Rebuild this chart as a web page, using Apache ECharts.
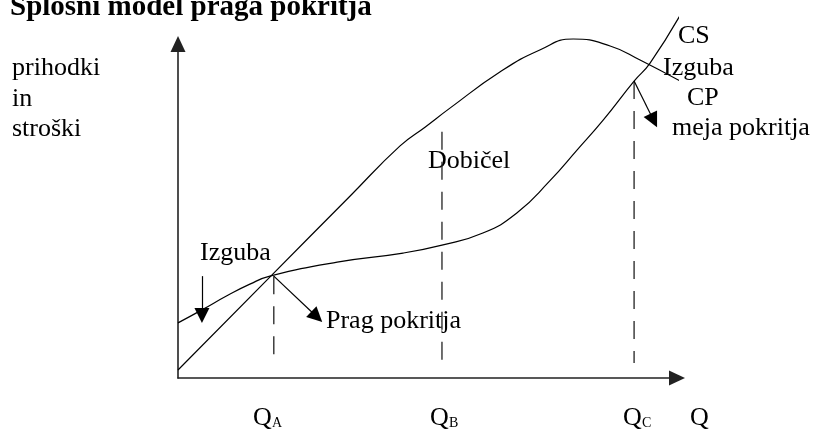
<!DOCTYPE html>
<html>
<head>
<meta charset="utf-8">
<script src="https://cdn.jsdelivr.net/npm/echarts@6/dist/echarts.min.js"></script>
<style>
    html, body { margin: 0; padding: 0; background: #fff; }
    #graphic { width: 813px; height: 432px; }
</style>
</head>
<body>
<div id="graphic"></div>
<script>
// quantity (Q) in relative units, 0..100 on the horizontal axis
var cpQ = [0, 18.4, 34.5, 44.5, 49.5, 54.5, 64.5, 72.5, 79.2, 86.6, 92.6, 101.0];
// CP - prihodki (revenue)
var cpValues = [2.4, 30.2, 54.5, 69.5, 75.1, 80.8, 91.6, 98.2, 101.5, 99.4, 95.2, 88.6];

var csQ = [0, 4.8, 9.8, 14.4, 18.4, 31.9, 45.1, 52.9, 61.1, 67.9, 74.5, 80.0, 85.2, 91.4, 94.6, 101.0];
// CS - stroški (costs)
var csValues = [16.5, 20.4, 24.6, 28.1, 30.5, 34.7, 37.4, 39.8, 43.4, 49.4, 59.0, 68.3, 77.2, 88.9, 94.3, 109.6];

// Q_A, Q_B, Q_C guide lines
var qNames = ["A", "B", "C"];
var qPos = [19.2, 52.9, 91.4];
var qTop = [30.5, 73.7, 88.9];
var qBottom = [5.4, 2.4, 4.5];

// annotation arrows: start -> tip
var arrows = [
    { from: [4.8, 30.5], to: [4.8, 16.5] },
    { from: [19.2, 30.5], to: [28.9, 16.8] },
    { from: [91.4, 88.9], to: [96.0, 75.1] }
];

(function () {
    var gridLeft = 178, gridTop = 44, gridRight = 136, gridBottom = 54;
    var pxX = (813 - gridLeft - gridRight) / 100;
    var pxY = (432 - gridTop - gridBottom) / 100;
    var headSize = 15;
    var font = "Liberation Serif";

    var zip = function (xs, ys) {
        var out = [];
        for (var i = 0; i < xs.length; i++) out.push([xs[i], ys[i]]);
        return out;
    };

    // markLine symbols are centered on the end point, so pull the end back by half a head
    var arrowLines = [];
    for (var i = 0; i < arrows.length; i++) {
        var a = arrows[i];
        var dx = (a.to[0] - a.from[0]) * pxX, dy = (a.to[1] - a.from[1]) * pxY;
        var len = Math.sqrt(dx * dx + dy * dy);
        var back = headSize / 2 / len;
        var end = [a.to[0] - (a.to[0] - a.from[0]) * back, a.to[1] - (a.to[1] - a.from[1]) * back];
        arrowLines.push([{ coord: a.from }, { coord: end }]);
    }

    var series = [
        {
            name: "CP", type: "line", data: zip(cpQ, cpValues), smooth: 0.5,
            symbol: "none", clip: false, lineStyle: { color: "#000", width: 1.2 }
        },
        {
            name: "CS", type: "line", data: zip(csQ, csValues), smooth: 0.5,
            symbol: "none", clip: false, lineStyle: { color: "#000", width: 1.2 }
        },
        {
            name: "arrows", type: "line", data: [], symbol: "none",
            markLine: {
                silent: true, animation: false,
                symbol: ["none", "triangle"], symbolSize: headSize,
                label: { show: false },
                lineStyle: { color: "#000", width: 1.2, type: "solid" },
                emphasis: { disabled: true },
                data: arrowLines
            }
        }
    ];
    for (var k = 0; k < qPos.length; k++) {
        series.push({
            name: "Q" + qNames[k], type: "line", symbol: "none", clip: false,
            data: [[qPos[k], qTop[k]], [qPos[k], qBottom[k]]],
            lineStyle: { color: "#222", width: 1.3, type: [18, 12] }
        });
    }

    var txt = function (text, x, y, size, extra) {
        return {
            type: "text", x: x, y: y, silent: true,
            style: { text: text, font: (extra || "") + size + "px '" + font + "'", fill: "#000", verticalAlign: "middle", align: "left" }
        };
    };

    var graphics = [
        txt("Splošni model praga pokritja", 10, 8, 29, "bold "),
        txt("prihodki", 12, 68, 26),
        txt("in", 12, 99, 26),
        txt("stroški", 12, 129, 26),
        txt("Izguba", 200, 253, 26),
        txt("Prag pokritja", 326, 321, 26),
        txt("Dobičel", 428, 161, 26),
        txt("CS", 678, 36, 26),
        txt("Izguba", 663, 68, 26),
        txt("CP", 687, 98, 26),
        txt("meja pokritja", 672, 128, 26),
        txt("Q", 253, 418, 26),
        txt("A", 272, 423, 14),
        txt("Q", 430, 418, 26),
        txt("B", 449, 423, 14),
        txt("Q", 623, 418, 26),
        txt("C", 642, 423, 14),
        txt("Q", 690, 418, 26)
    ];

    var axisBase = {
        type: "value", min: 0, max: 100,
        axisLine: {
            show: true, onZero: false,
            symbol: ["none", "triangle"], symbolSize: [15, 16],
            lineStyle: { color: "#222", width: 1.6 }
        },
        axisTick: { show: false },
        axisLabel: { show: false },
        splitLine: { show: false }
    };

    var myChart = echarts.init(document.getElementById("graphic"));
    var option = {
        animation: false,
        backgroundColor: "#fff",
        grid: { left: gridLeft, top: gridTop, right: gridRight, bottom: gridBottom, containLabel: false },
        xAxis: axisBase,
        yAxis: axisBase,
        series: series,
        graphic: graphics
    };
    myChart.setOption(option);
})();
</script>
</body>
</html>
